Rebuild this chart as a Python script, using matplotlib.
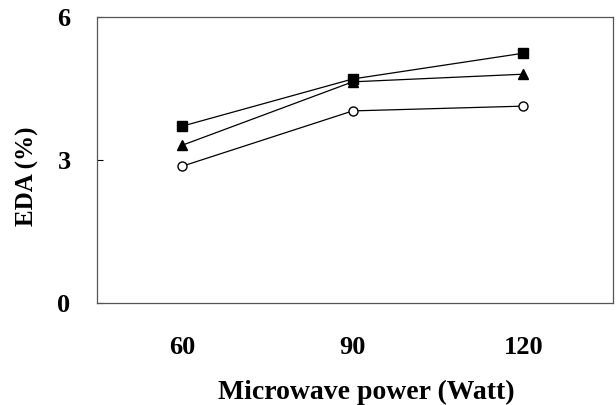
import matplotlib
matplotlib.use("Agg")
import matplotlib.pyplot as plt

power = [60, 90, 120]
series_square = [3.71, 4.70, 5.24]
series_triangle = [3.31, 4.64, 4.80]
series_circle = [2.87, 4.03, 4.13]
yticks = [0, 3, 6]

plt.rcParams['font.family'] = ['Liberation Serif', 'DejaVu Serif']
plt.rcParams['font.weight'] = 'bold'

fig = plt.figure(figsize=(6.16, 4.05), dpi=100)
ax = fig.add_axes([97/616, 1-303/405, 516/616, 286/405])

ax.plot(power, series_square, color='black', lw=0.9, marker='s', ms=6.5, mfc='black', mec='black')
ax.plot(power, series_triangle, color='black', lw=0.9, marker='^', ms=6.5, mfc='black', mec='black')
ax.plot(power, series_circle, color='black', lw=0.9, marker='o', ms=6.5, mfc='white', mec='black')

ax.set_xlim(45.0, 135.8)
ax.set_ylim(0, 6)
ax.set_xticks(power)
ax.set_yticks(yticks)
ax.tick_params(axis='x', length=0, labelsize=19, pad=24)
ax.tick_params(axis='y', direction='in', length=4, labelsize=19, pad=19)
for lab in ax.get_xticklabels() + ax.get_yticklabels():
    lab.set_fontweight('bold')
for s in ax.spines.values():
    s.set_linewidth(0.9)
    s.set_color('#555555')

fig.text(366/616, 1-392/405, 'Microwave power (Watt)', fontsize=20, fontweight='bold',
         ha='center', va='center')
fig.text(27/616, 1-176/405, 'EDA (%)', fontsize=18, fontweight='bold',
         ha='center', va='center', rotation=90)

fig.savefig('out.png', dpi=100)
